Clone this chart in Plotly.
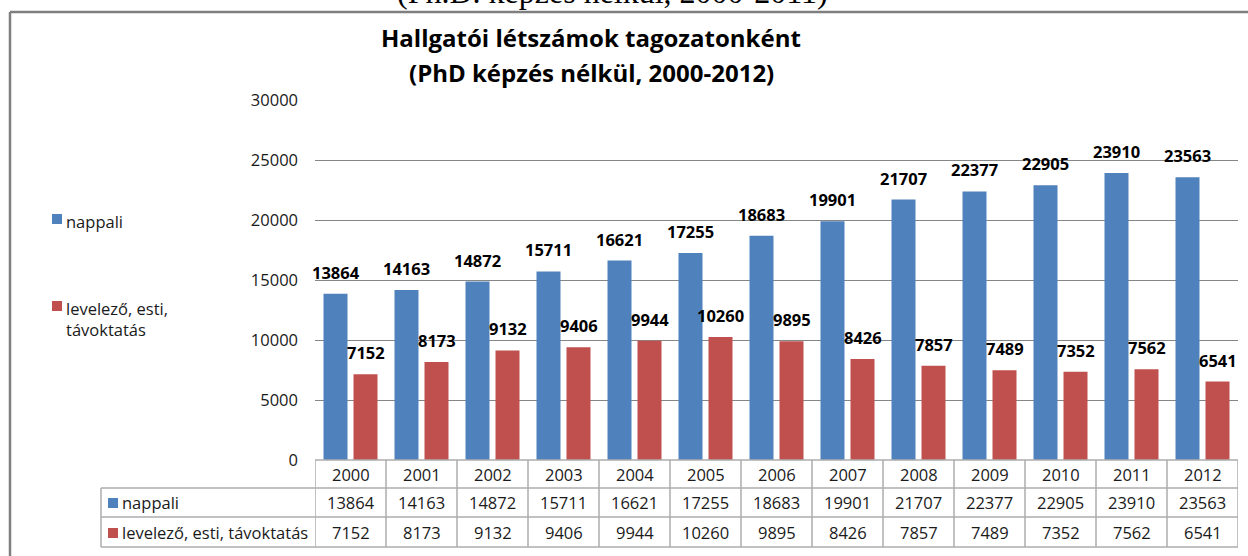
import plotly.graph_objects as go

years = ["2000", "2001", "2002", "2003", "2004", "2005", "2006",
         "2007", "2008", "2009", "2010", "2011", "2012"]
nappali = [13864, 14163, 14872, 15711, 16621, 17255, 18683,
           19901, 21707, 22377, 22905, 23910, 23563]
levelezo = [7152, 8173, 9132, 9406, 9944, 10260, 9895,
            8426, 7857, 7489, 7352, 7562, 6541]
series_names = ["nappali", "levelező, esti, távoktatás"]
legend_labels = ["nappali", "levelező, esti,<br>távoktatás"]
colors = ["#4F81BD", "#C0504D"]
title_lines = ["Hallgatói létszámok tagozatonként", "(PhD képzés nélkül, 2000-2012)"]
cut_title = "(Ph.D. képzés nélkül, 2000-2011)"
y_ticks = [0, 5000, 10000, 15000, 20000, 25000, 30000]

W, H = 1248, 556
L, R, T, B = 315, 10, 100, 96
PW, PH = W - L - R, H - T - B


def px(xp):
    return (xp - L) / PW


def py(yp):
    return (H - B - yp) / PH


FONT = "Open Sans, Noto Sans, sans-serif"
TXT = "#1a1a1a"
FS = 16.5

fig = go.Figure()
for name, vals, col in zip(series_names, [nappali, levelezo], colors):
    fig.add_trace(go.Bar(x=years, y=vals, name=name, marker=dict(color=col, line=dict(width=0)),
                         showlegend=False))

ann = []
shapes = []

# data labels
for vals, xs in zip([nappali, levelezo], [-15, 15]):
    for i, v in enumerate(vals):
        ann.append(dict(x=i, y=v, xref="x", yref="y", text=f"<b>{v}</b>", showarrow=False,
                        xshift=xs, yshift=8, yanchor="bottom",
                        font=dict(family=FONT, size=FS, color="#000000")))

# titles
for line, yy in zip(title_lines, [38, 72]):
    ann.append(dict(x=px(591), y=py(yy), xref="paper", yref="paper", text="<b>" + line + "</b>",
                    showarrow=False, xanchor="center", yanchor="middle",
                    font=dict(family=FONT, size=24, color="#000000")))
ann.append(dict(x=px(612), y=py(12), xref="paper", yref="paper", text=cut_title,
                showarrow=False, xanchor="center", yanchor="bottom",
                font=dict(family="Liberation Serif, DejaVu Serif, serif", size=32, color="#000000")))

# legend (manual)
leg_y = [219, 306]
for lab, col, ly in zip(legend_labels, colors, leg_y):
    shapes.append(dict(type="rect", xref="paper", yref="paper", x0=px(52), x1=px(62),
                       y0=py(ly - 5), y1=py(ly + 5), fillcolor=col, line=dict(width=0)))
    ann.append(dict(x=px(64), y=py(ly - 11), xref="paper", yref="paper", text=lab, showarrow=False,
                    xanchor="left", yanchor="top", align="left",
                    font=dict(family=FONT, size=FS, color=TXT)))

# data table
GRID = "#ADADAD"
row_y = [474, 502, 532]
for i, yr in enumerate(years):
    ann.append(dict(x=i, y=py(row_y[0]), xref="x", yref="paper", text=yr, showarrow=False,
                    yanchor="middle", font=dict(family=FONT, size=FS, color=TXT)))
for vals, ry in zip([nappali, levelezo], row_y[1:]):
    for i, v in enumerate(vals):
        ann.append(dict(x=i, y=py(ry), xref="x", yref="paper", text=str(v), showarrow=False,
                        yanchor="middle", font=dict(family=FONT, size=FS, color=TXT)))
for name, col, ry in zip(series_names, colors, row_y[1:]):
    shapes.append(dict(type="rect", xref="paper", yref="paper", x0=px(108), x1=px(118),
                       y0=py(ry - 4), y1=py(ry + 6), fillcolor=col, line=dict(width=0)))
    ann.append(dict(x=px(120), y=py(ry), xref="paper", yref="paper", text=name, showarrow=False,
                    xanchor="left", yanchor="middle", font=dict(family=FONT, size=FS, color=TXT)))

n = len(years)
shapes.append(dict(type="line", xref="paper", yref="paper", x0=0, x1=1, y0=py(460), y1=py(460),
                   line=dict(color=GRID, width=1.5)))
for hy in [488, 517, 547]:
    shapes.append(dict(type="line", xref="paper", yref="paper", x0=px(101), x1=1, y0=py(hy), y1=py(hy),
                       line=dict(color=GRID, width=1.5)))
shapes.append(dict(type="line", xref="paper", yref="paper", x0=px(101), x1=px(101), y0=py(488), y1=py(547),
                   line=dict(color=GRID, width=1.5)))
for i in range(n + 1):
    shapes.append(dict(type="line", xref="x", yref="paper", x0=i - 0.5, x1=i - 0.5, y0=py(460), y1=py(547),
                       line=dict(color=GRID, width=1.5)))

# chart frame (left and top edges)
shapes.append(dict(type="line", xref="paper", yref="paper", x0=px(10), x1=px(10), y0=py(12), y1=py(560),
                   line=dict(color="#7F7F7F", width=2.5)))
shapes.append(dict(type="line", xref="paper", yref="paper", x0=px(10), x1=px(1252), y0=py(12), y1=py(12),
                   line=dict(color="#7F7F7F", width=2.5)))

fig.update_layout(
    width=W, height=H,
    margin=dict(l=L, r=R, t=T, b=B, pad=0),
    paper_bgcolor="white", plot_bgcolor="white",
    barmode="group", bargap=0.155, bargroupgap=0.2,
    annotations=ann, shapes=shapes,
    xaxis=dict(type="category", range=[-0.5, n - 0.5], showticklabels=False, showgrid=False,
               zeroline=False, showline=False, ticks=""),
    yaxis=dict(range=[0, 30000], tickvals=y_ticks, tickformat="d", showgrid=True,
               gridcolor="#868686", gridwidth=1, zeroline=False, showline=False, ticks="",
               ticklabelstandoff=16, tickfont=dict(family=FONT, size=FS, color=TXT)),
)

fig.write_html("out.html", config={"displayModeBar": False},
               post_script="document.body.style.margin='0px';document.body.style.overflow='hidden';")
